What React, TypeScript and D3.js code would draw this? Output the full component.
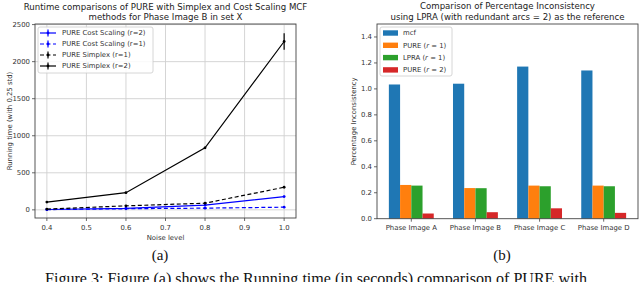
import * as d3 from 'd3';

// left panel: runtime vs noise level
const noiseLevels = [0.4, 0.6, 0.8, 1.0];
const costScalingR2 = [5, 20, 63, 179];
const costScalingR1 = [3, 15, 23, 36];
const simplexR1 = [10, 54, 90, 305];
const simplexR2 = [105, 232, 837, 2272];
const costScalingR2Err = [2, 4, 6, 10];
const costScalingR1Err = [2, 3, 4, 5];
const simplexR1Err = [3, 5, 8, 10];
const simplexR2Err = [10, 10, 15, 112];
const noiseTicks = [0.4, 0.5, 0.6, 0.7, 0.8, 0.9, 1.0];
const runtimeTicks = [0, 500, 1000, 1500, 2000, 2500];

// right panel: percentage inconsistency
const images = ['Phase Image A', 'Phase Image B', 'Phase Image C', 'Phase Image D'];
const mcf = [1.034, 1.04, 1.172, 1.142];
const pureR1 = [0.26, 0.236, 0.255, 0.255];
const lpraR1 = [0.255, 0.235, 0.25, 0.25];
const pureR2 = [0.04, 0.05, 0.08, 0.045];
const pctTicks = [0, 0.2, 0.4, 0.6, 0.8, 1.0, 1.2, 1.4];

const FONT = 'DejaVu Sans, sans-serif';
const SERIF = 'Liberation Serif, Times New Roman, serif';
const TICK = 6.9;

const runtimeSeries = [
  { name: 'PURE Cost Scaling (r=2)', values: costScalingR2, err: costScalingR2Err, color: '#0000ff', dash: '' },
  { name: 'PURE Cost Scaling (r=1)', values: costScalingR1, err: costScalingR1Err, color: '#0000ff', dash: '4,2.5' },
  { name: 'PURE Simplex (r=1)', values: simplexR1, err: simplexR1Err, color: '#000000', dash: '4,2.5' },
  { name: 'PURE Simplex (r=2)', values: simplexR2, err: simplexR2Err, color: '#000000', dash: '' },
];

const barSeries = [
  { label: 'mcf', values: mcf, color: '#1f77b4' },
  { label: 'PURE', values: pureR1, color: '#ff7f0e', r: '1' },
  { label: 'LPRA', values: lpraR1, color: '#2ca02c', r: '1' },
  { label: 'PURE', values: pureR2, color: '#d62728', r: '2' },
];

function RuntimePanel() {
  const box = { x0: 35, x1: 296, y0: 24, y1: 218 };
  const x = d3.scaleLinear().domain([0.37, 1.03]).range([box.x0, box.x1]);
  const y = d3.scaleLinear().domain([-110, 2508]).range([box.y1, box.y0]);
  const line = d3
    .line<number>()
    .x((_, i) => x(noiseLevels[i]))
    .y((d) => y(d));
  const cx = (box.x0 + box.x1) / 2;

  return (
    <g fontFamily={FONT}>
      <text x={cx} y={9.5} fontSize={8.6} textAnchor="middle" fill="#222">
        Runtime comparisons of PURE with Simplex and Cost Scaling MCF
      </text>
      <text x={cx} y={20} fontSize={8.6} textAnchor="middle" fill="#222">
        methods for Phase Image B in set X
      </text>
      {/* grid */}
      {noiseTicks.map((t) => (
        <line key={'gx' + t} x1={x(t)} x2={x(t)} y1={box.y0} y2={box.y1} stroke="#d0d0d0" strokeWidth={0.9} />
      ))}
      {runtimeTicks.map((t) => (
        <line key={'gy' + t} x1={box.x0} x2={box.x1} y1={y(t)} y2={y(t)} stroke="#d0d0d0" strokeWidth={0.9} />
      ))}
      {/* series */}
      {runtimeSeries.map((s) => (
        <g key={s.name}>
          <path d={line(s.values) || ''} fill="none" stroke={s.color} strokeWidth={1.2} strokeDasharray={s.dash} />
          {s.values.map((v, i) => (
            <g key={i}>
              <line
                x1={x(noiseLevels[i])}
                x2={x(noiseLevels[i])}
                y1={y(v - s.err[i])}
                y2={y(v + s.err[i])}
                stroke={s.color}
                strokeWidth={1.2}
              />
              <circle cx={x(noiseLevels[i])} cy={y(v)} r={1.4} fill={s.color} />
            </g>
          ))}
        </g>
      ))}
      {/* frame */}
      <rect x={box.x0} y={box.y0} width={box.x1 - box.x0} height={box.y1 - box.y0} fill="none" stroke="#444" strokeWidth={0.9} />
      {noiseTicks.map((t) => (
        <g key={'tx' + t}>
          <line x1={x(t)} x2={x(t)} y1={box.y1} y2={box.y1 + 3} stroke="#444" strokeWidth={0.8} />
          <text x={x(t)} y={229.5} fontSize={TICK} textAnchor="middle" fill="#333">
            {t.toFixed(1)}
          </text>
        </g>
      ))}
      {runtimeTicks.map((t) => (
        <g key={'ty' + t}>
          <line x1={box.x0 - 3} x2={box.x0} y1={y(t)} y2={y(t)} stroke="#444" strokeWidth={0.8} />
          <text x={box.x0 - 5} y={y(t) + 2.4} fontSize={TICK} textAnchor="end" fill="#333">
            {t}
          </text>
        </g>
      ))}
      <text x={cx} y={239.5} fontSize={TICK} textAnchor="middle" fill="#333">
        Noise level
      </text>
      <text
        transform={`translate(12, ${(box.y0 + box.y1) / 2}) rotate(-90)`}
        fontSize={TICK}
        textAnchor="middle"
        fill="#333"
      >
        Running time (with 0.25 std)
      </text>
      {/* legend */}
      <rect x={38} y={27} width={115} height={46} fill="#fff" fillOpacity={0.85} stroke="#ccc" strokeWidth={0.8} rx={2} />
      {runtimeSeries.map((s, i) => {
        const ly = 33 + i * 11;
        return (
          <g key={'lg' + i}>
            <line x1={40} x2={56} y1={ly} y2={ly} stroke={s.color} strokeWidth={1.2} strokeDasharray={s.dash} />
            <line x1={48} x2={48} y1={ly - 3.5} y2={ly + 3.5} stroke={s.color} strokeWidth={1.2} />
            <circle cx={48} cy={ly} r={1.4} fill={s.color} />
            <text x={62} y={ly + 2.4} fontSize={TICK} fill="#333">
              {s.name}
            </text>
          </g>
        );
      })}
    </g>
  );
}

function InconsistencyPanel() {
  const box = { x0: 377, x1: 638, y0: 24, y1: 218.7 };
  const w = 0.175;
  const span = images.length - 1 + 4 * w;
  const pad = span * 0.05;
  const x = d3
    .scaleLinear()
    .domain([-2 * w - pad, images.length - 1 + 2 * w + pad])
    .range([box.x0, box.x1]);
  const y = d3.scaleLinear().domain([0, 1.5]).range([box.y1, box.y0]);
  const bw = x(w) - x(0);
  const cx = (box.x0 + box.x1) / 2;

  return (
    <g fontFamily={FONT}>
      <text x={cx} y={9} fontSize={8.6} textAnchor="middle" fill="#222">
        Comparison of Percentage Inconsistency
      </text>
      <text x={cx} y={19.5} fontSize={8.6} textAnchor="middle" fill="#222">
        using LPRA (with redundant arcs = 2) as the reference
      </text>
      {barSeries.map((s, si) =>
        s.values.map((v, i) => (
          <rect
            key={si + '-' + i}
            x={x(i + (si - 2) * w)}
            y={y(v)}
            width={bw}
            height={y(0) - y(v)}
            fill={s.color}
          />
        ))
      )}
      <rect x={box.x0} y={box.y0} width={box.x1 - box.x0} height={box.y1 - box.y0} fill="none" stroke="#444" strokeWidth={0.9} />
      {images.map((name, i) => (
        <g key={name}>
          <line x1={x(i)} x2={x(i)} y1={box.y1} y2={box.y1 + 3} stroke="#444" strokeWidth={0.8} />
          <text x={x(i)} y={229.5} fontSize={TICK} textAnchor="middle" fill="#333">
            {name}
          </text>
        </g>
      ))}
      {pctTicks.map((t) => (
        <g key={'ty' + t}>
          <line x1={box.x0 - 3} x2={box.x0} y1={y(t)} y2={y(t)} stroke="#444" strokeWidth={0.8} />
          <text x={box.x0 - 5} y={y(t) + 2.4} fontSize={TICK} textAnchor="end" fill="#333">
            {t.toFixed(1)}
          </text>
        </g>
      ))}
      <text
        transform={`translate(355.5, ${(box.y0 + box.y1) / 2}) rotate(-90)`}
        fontSize={TICK}
        textAnchor="middle"
        fill="#333"
      >
        Percentage Inconsistency
      </text>
      {/* legend */}
      <rect x={380} y={27} width={72} height={49} fill="#fff" fillOpacity={0.85} stroke="#ccc" strokeWidth={0.8} rx={2} />
      {barSeries.map((s, i) => {
        const ly = 33 + i * 12.3;
        return (
          <g key={'lg' + i}>
            <rect x={383} y={ly - 2.7} width={15} height={5.4} fill={s.color} />
            <text x={403} y={ly + 2.4} fontSize={TICK} fill="#333">
              {s.label}
              {s.r ? ' (' : ''}
              {s.r ? <tspan fontStyle="italic">r</tspan> : null}
              {s.r ? ` = ${s.r})` : ''}
            </text>
          </g>
        );
      })}
    </g>
  );
}

export default function App() {
  return (
    <svg width={640} height={282} style={{ position: 'absolute', left: 0, top: 0, background: '#fff' }}>
      <rect width={640} height={282} fill="#fff" />
      <RuntimePanel />
      <InconsistencyPanel />
      <text x={160} y={260} fontFamily={SERIF} fontSize={15} textAnchor="middle" fill="#111">
        (a)
      </text>
      <text x={502} y={260} fontFamily={SERIF} fontSize={15} textAnchor="middle" fill="#111">
        (b)
      </text>
      <text x={45} y={284} fontFamily={SERIF} fontSize={16} fill="#111" textLength={542} lengthAdjust="spacingAndGlyphs">
        Figure 3: Figure (a) shows the Running time (in seconds) comparison of PURE with
      </text>
    </svg>
  );
}
